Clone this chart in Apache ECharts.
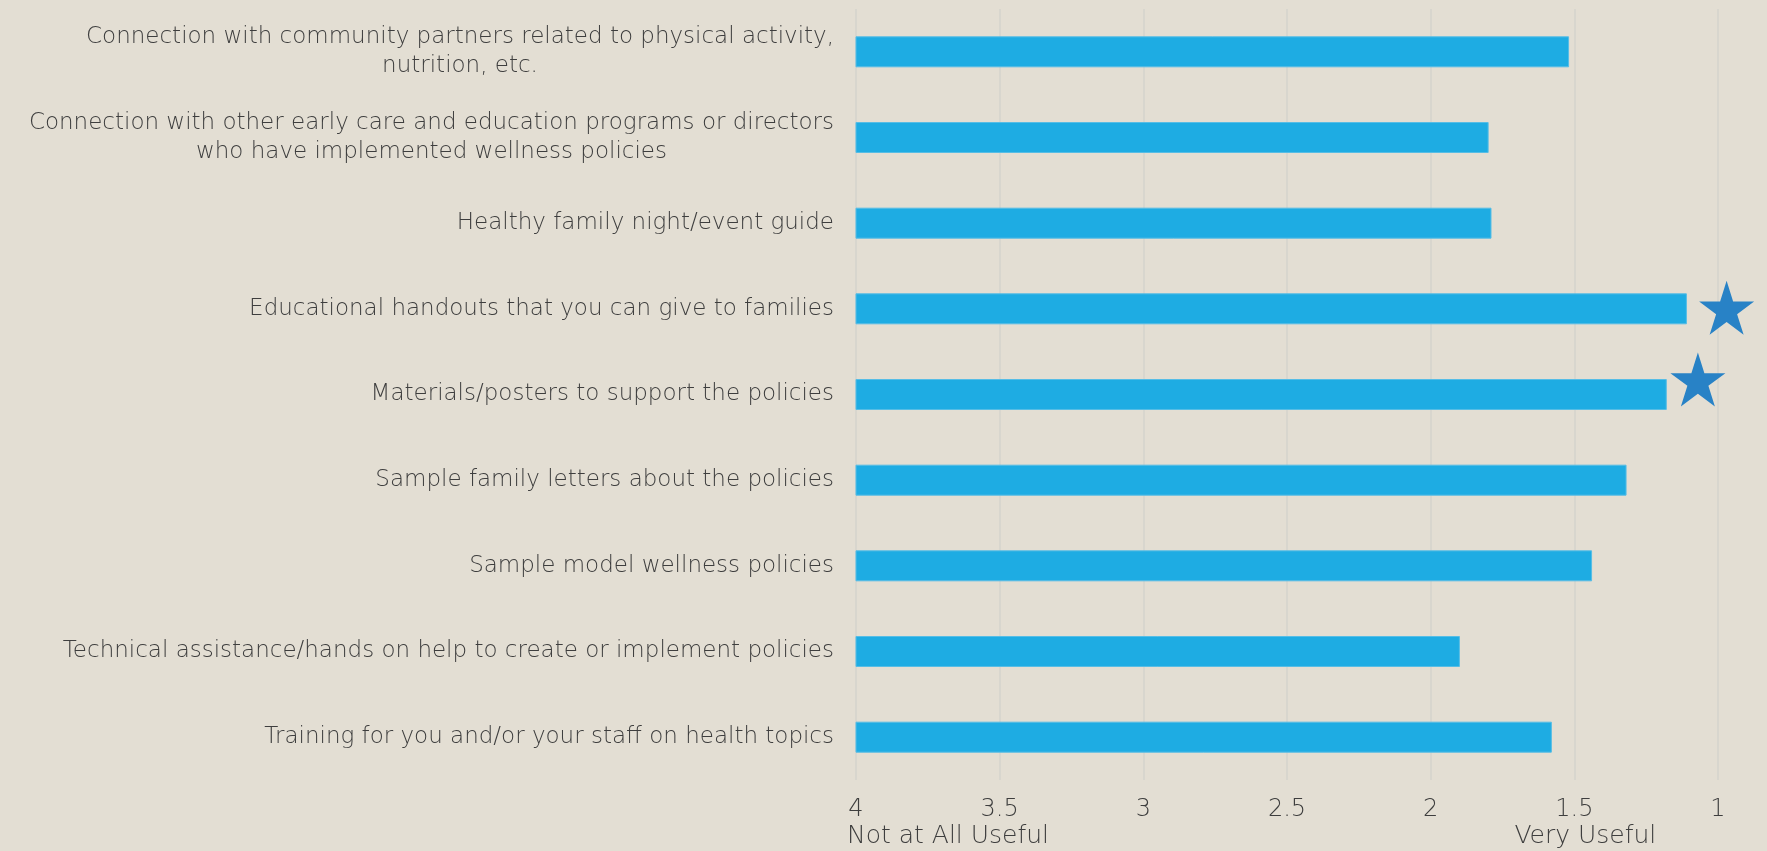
<!DOCTYPE html>
<html><head><meta charset="utf-8">
<script src="https://cdn.jsdelivr.net/npm/echarts@6/dist/echarts.min.js"></script>
<style>html,body{margin:0;padding:0;background:#E3DED3;}#c{width:1767px;height:851px;}</style>
</head><body><div id="c"></div>
<script>
const categories = [
  'Connection with community partners related to physical activity,\nnutrition, etc.',
  'Connection with other early care and education programs or directors\nwho have implemented wellness policies',
  'Healthy family night/event guide',
  'Educational handouts that you can give to families',
  'Materials/posters to support the policies',
  'Sample family letters about the policies',
  'Sample model wellness policies',
  'Technical assistance/hands on help to create or implement policies',
  'Training for you and/or your staff on health topics'
];
const values = [1.52, 1.80, 1.79, 1.11, 1.18, 1.32, 1.44, 1.90, 1.58];
const starCategories = [3, 4];
const starValues = [0.97, 1.07];
const tickValues = [4, 3.5, 3, 2.5, 2, 1.5, 1];
const endLabels = ['Not at All Useful', 'Very Useful'];
const endLabelValues = [4, 1.5];

const FONT = '"DejaVu Sans"';
const FW = 200;
const TXT = '#3e3e3e';
const starPath = 'path://M0,-100 L22.5,-30.9 L95.1,-30.9 L36.3,11.8 L58.8,80.9 L0,38.2 L-58.8,80.9 L-36.3,11.8 L-95.1,-30.9 L-22.5,-30.9 Z';

const chart = echarts.init(document.getElementById('c'), null, {renderer: 'canvas'});
const option = {
  backgroundColor: '#E3DED3',
  animation: false,
  grid: {left: 856, right: 49, top: 9, bottom: 71},
  xAxis: {
    type: 'value', min: 1, max: 4, interval: 0.5, inverse: true,
    axisLine: {show: false}, axisTick: {show: false},
    splitLine: {show: true, lineStyle: {color: '#D5D3CD', width: 1.5}},
    axisLabel: {color: TXT, fontFamily: FONT, fontWeight: FW, fontSize: 24, margin: 18,
      formatter: v => tickValues.indexOf(v) >= 0 ? String(v) : ''}
  },
  yAxis: {
    type: 'category', data: categories, inverse: true,
    axisLine: {show: false}, axisTick: {show: false}, splitLine: {show: false},
    axisLabel: {
      color: TXT, fontFamily: FONT, fontWeight: FW, fontSize: 23, margin: 22, lineHeight: 29, align: 'right',
      formatter: s => s.split('\n').map(l => '{c|' + l + '}').join('\n'),
      rich: {c: {align: 'center', color: TXT, fontFamily: FONT, fontWeight: FW, fontSize: 23, lineHeight: 29}}
    }
  },
  series: [
    {
      type: 'custom',
      data: values.map((v, i) => [v, i]),
      encode: {x: 0, y: 1},
      renderItem: function (params, api) {
        const v = api.value(0), c = api.value(1);
        const p0 = api.coord([4, c]);
        const p1 = api.coord([v, c]);
        const h = api.size([0, 1])[1] * 0.35;
        return {
          type: 'rect',
          shape: {x: p0[0], y: p0[1] - h / 2, width: p1[0] - p0[0], height: h},
          style: {fill: '#1EACE3', stroke: '#56BDE6', lineWidth: 1}
        };
      }
    },
    {
      type: 'scatter', clip: false,
      symbol: starPath,
      symbolSize: [55, 54],
      itemStyle: {color: '#2882C6', opacity: 1},
      data: starValues.map((v, i) => ({
        value: [v, starCategories[i]],
        symbolOffset: i === 1 ? [0, -15] : [0, -1]
      }))
    }
  ]
};
chart.setOption(option);
const g = endLabels.map((t, i) => {
  const p = chart.convertToPixel({gridIndex: 0}, [endLabelValues[i], 0]);
  return {
    type: 'text',
    x: i === 0 ? p[0] - 9 : p[0] + 11,
    y: 836,
    style: {text: t, fill: TXT, font: FW + ' 25px ' + FONT, align: i === 0 ? 'left' : 'center', verticalAlign: 'middle'}
  };
});
chart.setOption({graphic: g});
</script>
</body></html>
